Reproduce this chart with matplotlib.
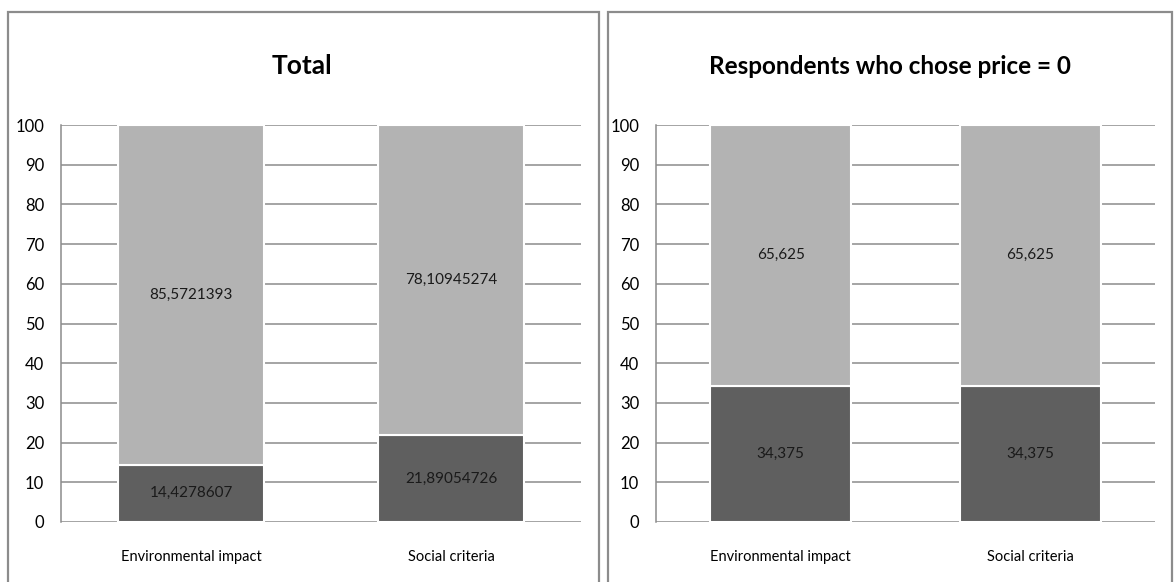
import matplotlib
matplotlib.use("Agg")
from matplotlib import pyplot as plt
from matplotlib.patches import Rectangle

categories = ["Environmental impact", "Social criteria"]
titles = ["Total", "Respondents who chose price = 0"]
# lower (dark) and upper (light) segments, one pair of lists per panel
lower_values = [
    [14.4278607, 21.89054726],
    [34.375, 34.375],
]
upper_values = [
    [85.5721393, 78.10945274],
    [65.625, 65.625],
]
y_ticks = list(range(0, 101, 10))

plt.rcParams["font.family"] = ["Lato", "DejaVu Sans"]

W, H = 1175, 582
fig = plt.figure(figsize=(W / 100, H / 100), dpi=100)

# panel frames, in pixels
frames = [(8, 12, 591), (608, 12, 564)]
for x0, y0, w in frames:
    fig.patches.append(Rectangle(
        (x0 / W, -0.1), w / W, (H - y0) / H + 0.1,
        transform=fig.transFigure, fill=False,
        edgecolor="#8c8c8c", linewidth=1.6, zorder=0))

# plot areas: left, bottom, width, height (pixels)
areas = [(61, 60, 520, 397), (656, 60, 499, 397)]
title_x = [302, 890]
title_size = [19, 17.5]


def fmt(v):
    return str(v).replace(".", ",")


for i, (l, b, w, h) in enumerate(areas):
    ax = fig.add_axes([l / W, b / H, w / W, h / H])
    x = range(len(categories))
    ax.bar(x, lower_values[i], width=0.565, color="#5f5f5f",
           edgecolor="white", linewidth=1.5, zorder=3)
    ax.bar(x, upper_values[i], bottom=lower_values[i], width=0.565,
           color="#b3b3b3", edgecolor="white", linewidth=1.5, zorder=3)
    for xi, lo, up in zip(x, lower_values[i], upper_values[i]):
        ax.text(xi, lo / 2, fmt(lo), ha="center", va="center",
                fontsize=11, color="#1a1a1a", zorder=4)
        ax.text(xi, lo + up / 2, fmt(up), ha="center", va="center",
                fontsize=11, color="#1a1a1a", zorder=4)

    ax.set_xlim(-0.5, 1.5)
    ax.set_ylim(0, 100)
    ax.set_yticks(y_ticks)
    ax.set_xticks(list(x))
    ax.set_xticklabels(categories)
    ax.yaxis.grid(True, color="#8c8c8c", linewidth=1.1, zorder=0)
    ax.set_axisbelow(True)
    for s in ["top", "right", "bottom"]:
        ax.spines[s].set_visible(False)
    ax.spines["left"].set_color("#8c8c8c")
    ax.spines["left"].set_linewidth(1.1)
    ax.tick_params(axis="y", length=0, pad=12, labelsize=12)
    ax.tick_params(axis="x", length=0, pad=20, labelsize=10.5)

    fig.text(title_x[i] / W, 1 - 66 / H, titles[i], ha="center", va="center",
             fontsize=title_size[i], fontweight="bold", color="black")

plt.savefig("out.png", dpi=100)
